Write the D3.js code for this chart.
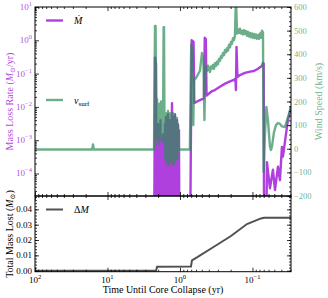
<!DOCTYPE html>
<html>
<head>
<meta charset="utf-8">
<script src="https://cdn.jsdelivr.net/npm/d3@7"></script>
<style>
body { margin: 0; background: #fff; }
svg, svg text { font-family: "Liberation Serif", "Times New Roman", "DejaVu Serif", serif; }
</style>
</head>
<body>
<svg id="chart" width="328" height="298"></svg>
<script>
// mass loss rate (Msun/yr) vs time until collapse (yr)
const mdotTime = [
    100, 2.28, 2.21, 2.14, 2.10, 2.01, 1.95, 1.86, 1.80, 1.71,
    1.66, 1.610, 1.585, 1.560, 1.535, 1.511, 1.487, 1.464, 1.441, 1.418,
    1.396, 1.374, 1.352, 1.331, 1.310, 1.289, 1.269, 1.249, 1.229, 1.210,
    1.191, 1.172, 1.154, 1.135, 1.117, 1.100, 1.083, 1.066, 1.049, 1.032,
    1.016, 0.73, 0.69, 0.65, 0.635, 0.60, 0.53, 0.467, 0.455, 0.44,
    0.43, 0.36, 0.33, 0.281, 0.239, 0.204, 0.180, 0.172, 0.169, 0.166,
    0.161, 0.149, 0.127, 0.108, 0.0953, 0.0839, 0.0788, 0.0740, 0.0716, 0.0700,
    0.0690, 0.0652, 0.0631, 0.0574, 0.0522, 0.0489, 0.0445, 0.0418, 0.0392, 0.0380,
    0.0345, 0.0324, 0.0294
];
const mdotValue = [
    1e-7, 1e-7, 0.3, 0.2, 1e-7, 3e-3, 1e-7, 4e-3, 1e-7, 1.5e-3,
    1e-7, 3e-3, 1e-5, 5e-3, 1e-5, 2e-3, 1e-5, 6e-3, 1e-5, 3e-3,
    1e-5, 4e-3, 1e-5, 2e-3, 1e-5, 0.013, 1e-5, 5e-3, 1e-5, 3e-3,
    1e-5, 6e-3, 1e-5, 2e-3, 1e-5, 4e-3, 1e-5, 3e-3, 1e-5, 2e-3,
    1e-7, 1e-7, 1.0, 0.9, 0.013, 0.014, 0.016, 0.018, 1.2, 1.1,
    0.022, 0.03, 0.032, 0.040, 0.050, 0.058, 0.065, 0.07, 0.032, 0.63,
    0.079, 0.09, 0.105, 0.115, 0.12, 0.14, 0.155, 0.17, 0.21, 0.2,
    1e-7, 1e-7, 2.2e-4, 3.6e-5, 1.3e-4, 3.2e-5, 1.6e-4, 6.3e-5, 6.3e-4, 3.2e-4,
    1.5e-3, 4e-3, 1e-2
];

// surface wind speed (km/s)
const speedTime = [
    100, 16.3, 15.85, 15.4, 2.28, 2.21, 2.17, 2.12, 2.07, 2.04,
    2.01, 1.98, 1.95, 1.92, 1.89, 1.86, 1.83, 1.80, 1.77, 1.74,
    1.71, 1.68, 1.66, 1.635, 1.610, 1.585, 1.560, 1.535, 1.511, 1.487,
    1.464, 1.441, 1.418, 1.396, 1.374, 1.352, 1.331, 1.310, 1.289, 1.269,
    1.249, 1.229, 1.210, 1.191, 1.172, 1.154, 1.135, 1.117, 1.100, 1.083,
    1.066, 1.049, 1.032, 0.73, 0.70, 0.68, 0.655, 0.641, 0.60, 0.53, 0.497,
    0.475, 0.46, 0.445,
    0.424, 0.4111, 0.398, 0.386, 0.3736, 0.362, 0.3506, 0.3396, 0.329, 0.3187,
    0.3088, 0.299, 0.2898, 0.281, 0.272, 0.264, 0.2551, 0.2471, 0.239, 0.2319,
    0.2247, 0.2177, 0.2109, 0.204, 0.1979, 0.1918, 0.1858, 0.18, 0.1743, 0.1689,
    0.1636, 0.1585, 0.1535, 0.149, 0.1441, 0.1396, 0.1352, 0.131, 0.1269, 0.1229,
    0.1191, 0.1153, 0.1117, 0.1082, 0.1048, 0.1016, 0.0984, 0.0953, 0.0924, 0.0895,
    0.0867, 0.0839, 0.0813, 0.0788, 0.0763, 0.074, 0.0716, 0.0700,
    0.0673, 0.0642, 0.0611, 0.0574, 0.0556, 0.0538, 0.0505, 0.0474, 0.0445, 0.0418,
    0.0392, 0.0356, 0.0334, 0.0304, 0.0294
];
const speedValue = [
    -3, -3, 18, -3, -3, 520, 520, 40, 210, 60,
    180, 20, 190, 90, 160, 40, 200, 100, 150, 30,
    120, 515, 515, 60, 140, -40, 150, -60, 120, -30,
    160, -70, 130, -50, 150, -20, 140, -60, 110, -40,
    150, -70, 130, -30, 140, -50, 120, -20, 130, -40,
    100, 20, -3, -3, 440, 420, 100, 290, 300, 330, 405,
    380, 122, 346,
    330, 352, 336, 325, 348, 340, 355, 338, 362, 350,
    368, 358, 380, 372, 392, 385, 405, 396, 418, 408,
    425, 415, 440, 430, 452, 445, 468, 460, 480, 650,
    488, 505, 490, 508, 488, 500, 484, 502, 486, 498,
    478, 495, 475, 490, 472, 488, 470, 486, 468, 484,
    466, 482, 465, 488, 470, 500, 492, -98,
    60, 177, 120, 10, -5, 10, 70, 100, 109, 105,
    95, 92, 120, 160, 180
];

// cumulative mass lost (Msun)
const lostTime = [100, 2.14, 2.07, 0.705, 0.683, 0.583, 0.340, 0.198, 0.119, 0.0764, 0.0694, 0.0294];
const lostValue = [0, 0, 0.0026, 0.0028, 0.0068, 0.0087, 0.0156, 0.0226, 0.0304, 0.0341, 0.0345, 0.0345];

const timeTicks = [100, 10, 1, 0.1];
const timeTickExp = ["2", "1", "0", "\u22121"];
const rateTicks = [10, 1, 0.1, 0.01, 0.001, 0.0001];
const rateTickExp = ["1", "0", "\u22121", "\u22122", "\u22123", "\u22124"];
const speedTicks = [600, 500, 400, 300, 200, 100, 0, -100, -200];
const lostTicks = [0, 0.01, 0.02, 0.03, 0.04];

const frame = {left: 35, right: 291, top: 7, mid: 196, bottom: 271.7};
const purple = "#9400d3", green = "#2e8b57", grey = "#333";
const serif = "Liberation Serif, Times New Roman, DejaVu Serif, serif";

const svg = d3.select("#chart").attr("font-family", serif);

const x = d3.scaleLog().domain([100, 0.0294]).range([frame.left, frame.right]);
const yRate = d3.scaleLog().domain([10, 2.11e-5]).range([frame.top, frame.mid]);
const ySpeed = d3.scaleLinear().domain([600, -200]).range([frame.top, frame.mid]);
const yLost = d3.scaleLinear().domain([0.0487, -0.00065]).range([frame.mid, frame.bottom]);

const logMinor = function(lo, hi) {
    const out = [];
    for (let e = Math.floor(Math.log10(lo)); e <= Math.ceil(Math.log10(hi)); e++) {
        for (let k = 2; k < 10; k++) {
            const v = k * Math.pow(10, e);
            if (v >= lo && v <= hi) out.push(v);
        }
    }
    return out;
};
const stepMinor = (lo, hi, step) => d3.range(Math.round(lo / step), Math.round(hi / step) + 1).map(i => i * step);

const tickSet = function(axisFn, scale, major, minor, transform) {
    [[major, 4], [minor, 2]].forEach(([vals, len]) => {
        svg.append("g")
            .attr("transform", transform)
            .call(axisFn(scale).tickValues(vals).tickSize(-len).tickFormat(""))
            .call(g => g.select(".domain").remove())
            .call(g => g.selectAll("line").attr("stroke", "#000").attr("stroke-width", 0.8));
    });
};

// clip regions
const defs = svg.append("defs");
defs.append("clipPath").attr("id", "clip-top").append("rect")
    .attr("x", frame.left).attr("y", frame.top)
    .attr("width", frame.right - frame.left).attr("height", frame.mid - frame.top);
defs.append("clipPath").attr("id", "clip-bottom").append("rect")
    .attr("x", frame.left).attr("y", frame.mid)
    .attr("width", frame.right - frame.left).attr("height", frame.bottom - frame.mid);

// data lines
const rateLine = d3.line().x(i => x(mdotTime[i])).y(i => yRate(mdotValue[i]));
const speedLine = d3.line().x(i => x(speedTime[i])).y(i => ySpeed(speedValue[i]));
const lostLine = d3.line().x(i => x(lostTime[i])).y(i => yLost(lostValue[i]));

const topPlot = svg.append("g").attr("clip-path", "url(#clip-top)");
topPlot.append("path")
    .attr("d", rateLine(d3.range(mdotTime.length)))
    .attr("fill", "none").attr("stroke", purple).attr("stroke-opacity", 0.75)
    .attr("stroke-width", 2.4).attr("stroke-linejoin", "round");
topPlot.append("path")
    .attr("d", speedLine(d3.range(speedTime.length)))
    .attr("fill", "none").attr("stroke", green).attr("stroke-opacity", 0.7)
    .attr("stroke-width", 2.4).attr("stroke-linejoin", "round");

svg.append("g").attr("clip-path", "url(#clip-bottom)")
    .append("path")
    .attr("d", lostLine(d3.range(lostTime.length)))
    .attr("fill", "none").attr("stroke", grey).attr("stroke-opacity", 0.85)
    .attr("stroke-width", 2);

// frames
[[frame.top, frame.mid], [frame.mid, frame.bottom]].forEach(([y0, y1]) => {
    svg.append("rect")
        .attr("x", frame.left).attr("y", y0)
        .attr("width", frame.right - frame.left).attr("height", y1 - y0)
        .attr("fill", "none").attr("stroke", "#000").attr("stroke-width", 1);
});

// ticks
const timeMinor = logMinor(0.0294, 100);
tickSet(d3.axisTop, x, timeTicks, timeMinor, `translate(0,${frame.top})`);
tickSet(d3.axisBottom, x, timeTicks, timeMinor, `translate(0,${frame.mid})`);
tickSet(d3.axisTop, x, timeTicks, timeMinor, `translate(0,${frame.mid})`);
tickSet(d3.axisBottom, x, timeTicks, timeMinor, `translate(0,${frame.bottom})`);
tickSet(d3.axisLeft, yRate, rateTicks, logMinor(2.11e-5, 10), `translate(${frame.left},0)`);
tickSet(d3.axisRight, ySpeed, speedTicks, stepMinor(-200, 600, 20), `translate(${frame.right},0)`);
tickSet(d3.axisLeft, yLost, lostTicks, stepMinor(0, 0.048, 0.002), `translate(${frame.left},0)`);
tickSet(d3.axisRight, yLost, lostTicks, stepMinor(0, 0.048, 0.002), `translate(${frame.right},0)`);

// tick labels
const powerLabel = function(text, exp) {
    text.append("tspan").text("10");
    text.append("tspan").attr("dy", -4).attr("font-size", 6.5).text(exp);
};

timeTicks.forEach((v, i) => {
    svg.append("text")
        .attr("x", x(v)).attr("y", 282.5)
        .attr("text-anchor", "middle").attr("font-size", 9).attr("fill", "#000")
        .call(t => powerLabel(t, timeTickExp[i]));
});
rateTicks.forEach((v, i) => {
    svg.append("text")
        .attr("x", 32).attr("y", yRate(v) + 3)
        .attr("text-anchor", "end").attr("font-size", 9)
        .attr("fill", purple).attr("fill-opacity", 0.75)
        .call(t => powerLabel(t, rateTickExp[i]));
});
speedTicks.forEach(v => {
    svg.append("text")
        .attr("x", 294).attr("y", ySpeed(v) + 3)
        .attr("font-size", 8.5)
        .attr("fill", green).attr("fill-opacity", 0.7)
        .text(v < 0 ? "\u2212" + Math.abs(v) : v);
});
lostTicks.forEach(v => {
    svg.append("text")
        .attr("x", 32).attr("y", yLost(v) + 3)
        .attr("text-anchor", "end").attr("font-size", 9).attr("fill", "#000")
        .text(d3.format(".2f")(v));
});

// axis titles
svg.append("text")
    .attr("x", 163).attr("y", 293)
    .attr("text-anchor", "middle").attr("font-size", 10)
    .text("Time Until Core Collapse (yr)");

const solarTitle = function(text, before, after) {
    text.append("tspan").text(before);
    text.append("tspan").attr("font-style", "italic").text("M");
    text.append("tspan").attr("font-size", 7).attr("dy", 2).text("\u2299");
    text.append("tspan").attr("dy", -2).text(after);
};
svg.append("text")
    .attr("transform", "translate(12.5,101.5) rotate(-90)")
    .attr("text-anchor", "middle").attr("font-size", 10)
    .attr("fill", purple).attr("fill-opacity", 0.75)
    .call(t => solarTitle(t, "Mass Loss Rate (", "/yr)"));
svg.append("text")
    .attr("transform", "translate(12.5,234) rotate(-90)")
    .attr("text-anchor", "middle").attr("font-size", 10).attr("fill", "#000")
    .call(t => solarTitle(t, "Total Mass Lost (", ")"));
svg.append("text")
    .attr("transform", "translate(322,101.5) rotate(-90)")
    .attr("text-anchor", "middle").attr("font-size", 10)
    .attr("fill", green).attr("fill-opacity", 0.7)
    .text("Wind Speed (km/s)");

// legends
const legendEntry = function(y, color, opacity, width, build) {
    svg.append("line")
        .attr("x1", 46).attr("x2", 63).attr("y1", y).attr("y2", y)
        .attr("stroke", color).attr("stroke-opacity", opacity).attr("stroke-width", width);
    svg.append("text")
        .attr("x", 74).attr("y", y + 3.5)
        .attr("font-size", 10)
        .call(build);
};
legendEntry(20.5, purple, 0.75, 2.4, t => t.append("tspan").attr("font-style", "italic").text("\u1E40"));
legendEntry(100, green, 0.7, 2.4, t => {
    t.append("tspan").attr("font-style", "italic").text("v");
    t.append("tspan").attr("font-size", 7).attr("dy", 2).text("surf");
});
legendEntry(209.5, grey, 0.85, 2, t => {
    t.append("tspan").text("\u0394");
    t.append("tspan").attr("font-style", "italic").text("M");
});
</script>
</body>
</html>
